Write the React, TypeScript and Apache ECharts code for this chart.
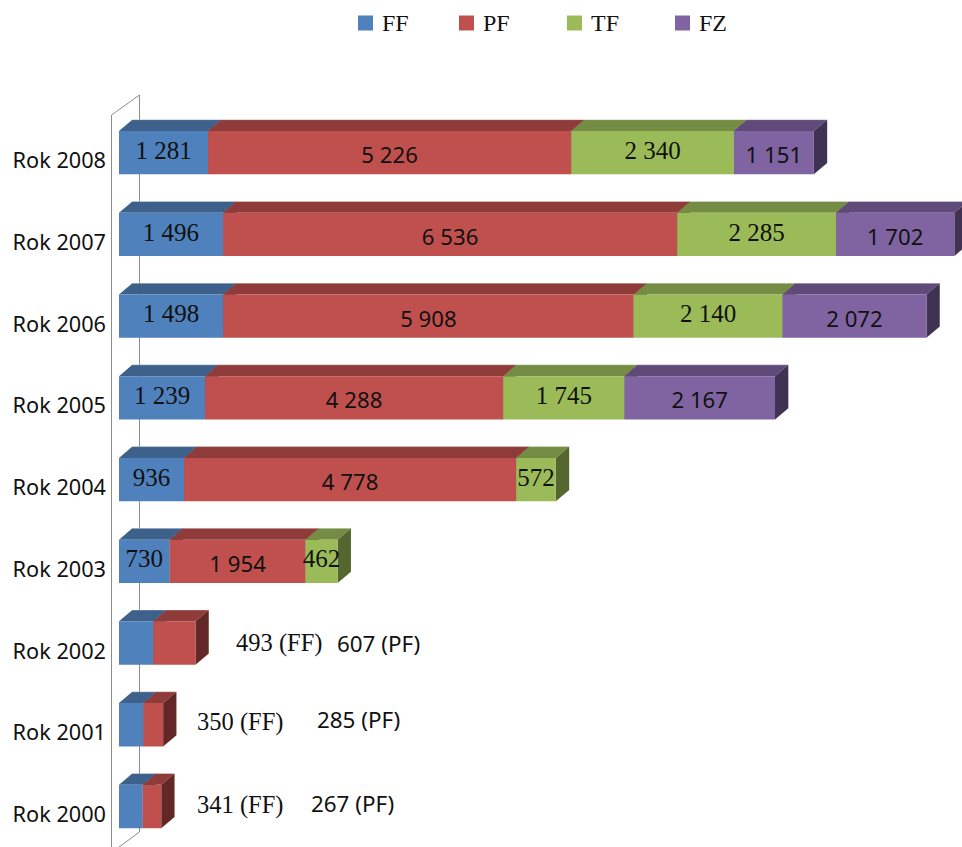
import React, { useEffect, useRef } from "react";
import * as echarts from "echarts";

const categories = ["Rok 2000", "Rok 2001", "Rok 2002", "Rok 2003", "Rok 2004", "Rok 2005", "Rok 2006", "Rok 2007", "Rok 2008"];
const seriesNames = ["FF", "PF", "TF", "FZ"];
const ff = [341, 350, 493, 730, 936, 1239, 1498, 1496, 1281];
const pf = [267, 285, 607, 1954, 4778, 4288, 5908, 6536, 5226];
const tf = [null, null, null, 462, 572, 1745, 2140, 2285, 2340];
const fz = [null, null, null, null, null, 2167, 2072, 1702, 1151];

const frontColors = ["#4F81BD", "#C0504D", "#9BBB59", "#8064A2"];
const topColors = ["#3E618C", "#8E3B39", "#748C43", "#5F4A79"];
const sideColors = ["#2F4A6C", "#632826", "#55662F", "#403252"];
const labelFonts = ["Liberation Serif", "Noto Sans", "Liberation Serif", "Noto Sans"];
const labelSizes = [25, 22.2, 25, 22.2];
const labelDy = [-2, 2.5, -2, 2.5];
const legendLefts = [353, 454, 562, 670];

// Free-standing captions of the three smallest years: [category, series, left px, centre y px]
const callouts: [number, number, number, number][] = [
  [2, 0, 236, 642],
  [2, 1, 337, 643],
  [1, 0, 197, 721],
  [1, 1, 317, 719],
  [0, 0, 197, 804],
  [0, 1, 311, 803],
];

const allValues = [ff, pf, tf, fz];
const fmt = (v: number) => (v >= 1000 ? `${Math.floor(v / 1000)} ${String(v % 1000).padStart(3, "0")}` : String(v));

const BAR_H = 43.4;
const DX = 13.3;
const DY = 11.3;

function buildSeries() {
  return allValues.map((vals, s) => ({
    name: seriesNames[s],
    type: "custom" as const,
    clip: false,
    z: 2 + s,
    itemStyle: { color: frontColors[s] },
    encode: { x: [1, 2], y: 0 },
    data: vals
      .map((v, c) => {
        if (v == null) return null;
        let start = 0;
        for (let k = 0; k < s; k++) start += allValues[k][c] ?? 0;
        return [c, start, start + v, v];
      })
      .filter(Boolean),
    renderItem: (_: any, api: any) => {
      const c = api.value(0);
      const [x0, yc] = api.coord([api.value(1), c]);
      const [x1] = api.coord([api.value(2), c]);
      const top = yc - BAR_H / 2 + 0.4;
      const bot = yc + BAR_H / 2 + 0.4;
      const children: any[] = [
        {
          type: "polygon",
          shape: { points: [[x0, top], [x0 + DX, top - DY], [x1 + DX, top - DY], [x1, top]] },
          style: { fill: topColors[s] },
        },
        {
          type: "line",
          shape: { x1: x0 + DX, y1: top - DY, x2: x1 + DX, y2: top - DY },
          style: { stroke: "rgba(255,255,255,0.3)", lineWidth: 1 },
        },
        {
          type: "polygon",
          shape: { points: [[x1, top], [x1 + DX, top - DY], [x1 + DX, bot - DY], [x1, bot]] },
          style: { fill: sideColors[s] },
        },
        { type: "rect", shape: { x: x0, y: top, width: x1 - x0, height: BAR_H }, style: { fill: frontColors[s] } },
      ];
      const isCallout = callouts.some((k) => k[0] === c);
      if (!isCallout) {
        children.push({
          type: "text",
          z2: 10,
          style: {
            x: (x0 + x1) / 2,
            y: yc + labelDy[s],
            text: fmt(api.value(3)),
            align: "center",
            verticalAlign: "middle",
            fontFamily: labelFonts[s],
            fontSize: labelSizes[s],
            fill: "#111",
          },
        });
      }
      return { type: "group", children };
    },
  }));
}

export default function App() {
  const ref = useRef<HTMLDivElement>(null);
  useEffect(() => {
    const chart = echarts.init(ref.current!, undefined, { renderer: "svg" });
    chart.setOption({
      animation: false,
      backgroundColor: "#fff",
      legend: seriesNames.map((name, i) => ({
        data: [name],
        left: legendLefts[i],
        top: 6,
        icon: "rect",
        itemWidth: 15,
        itemHeight: 15,
        textStyle: { fontFamily: "Liberation Serif", fontSize: 24, color: "#111", padding: [0, 0, 0, 4] },
      })),
      grid: { left: 119, top: 111.4, width: 834, height: 736.9 },
      xAxis: { type: "value", min: 0, max: 12000, show: false },
      yAxis: {
        type: "category",
        data: categories,
        axisLine: { show: false },
        axisTick: { show: false },
        axisLabel: {
          margin: 13,
          fontFamily: "Noto Sans",
          fontSize: 21.7,
          color: "#111",
          verticalAlign: "top",
          lineHeight: 15,
        },
      },
      graphic: [
        {
          type: "polyline",
          z: 0,
          shape: { points: [[111.5, 847], [111.5, 115], [139.5, 95], [139.5, 832], [119, 847]] },
          style: { stroke: "#8C8C8C", lineWidth: 1, fill: "none" },
        },
        ...callouts.map(([c, s, x, y]) => ({
          type: "text",
          z: 20,
          style: {
            x,
            y,
            text: `${allValues[s][c]} (${seriesNames[s]})`,
            verticalAlign: "middle",
            fontFamily: labelFonts[s],
            fontSize: s === 0 ? 24.5 : 22.4,
            fill: "#111",
          },
        })),
      ],
      series: buildSeries(),
    });
    return () => chart.dispose();
  }, []);
  return <div ref={ref} style={{ position: "absolute", left: 0, top: 0, width: 962, height: 847 }} />;
}
